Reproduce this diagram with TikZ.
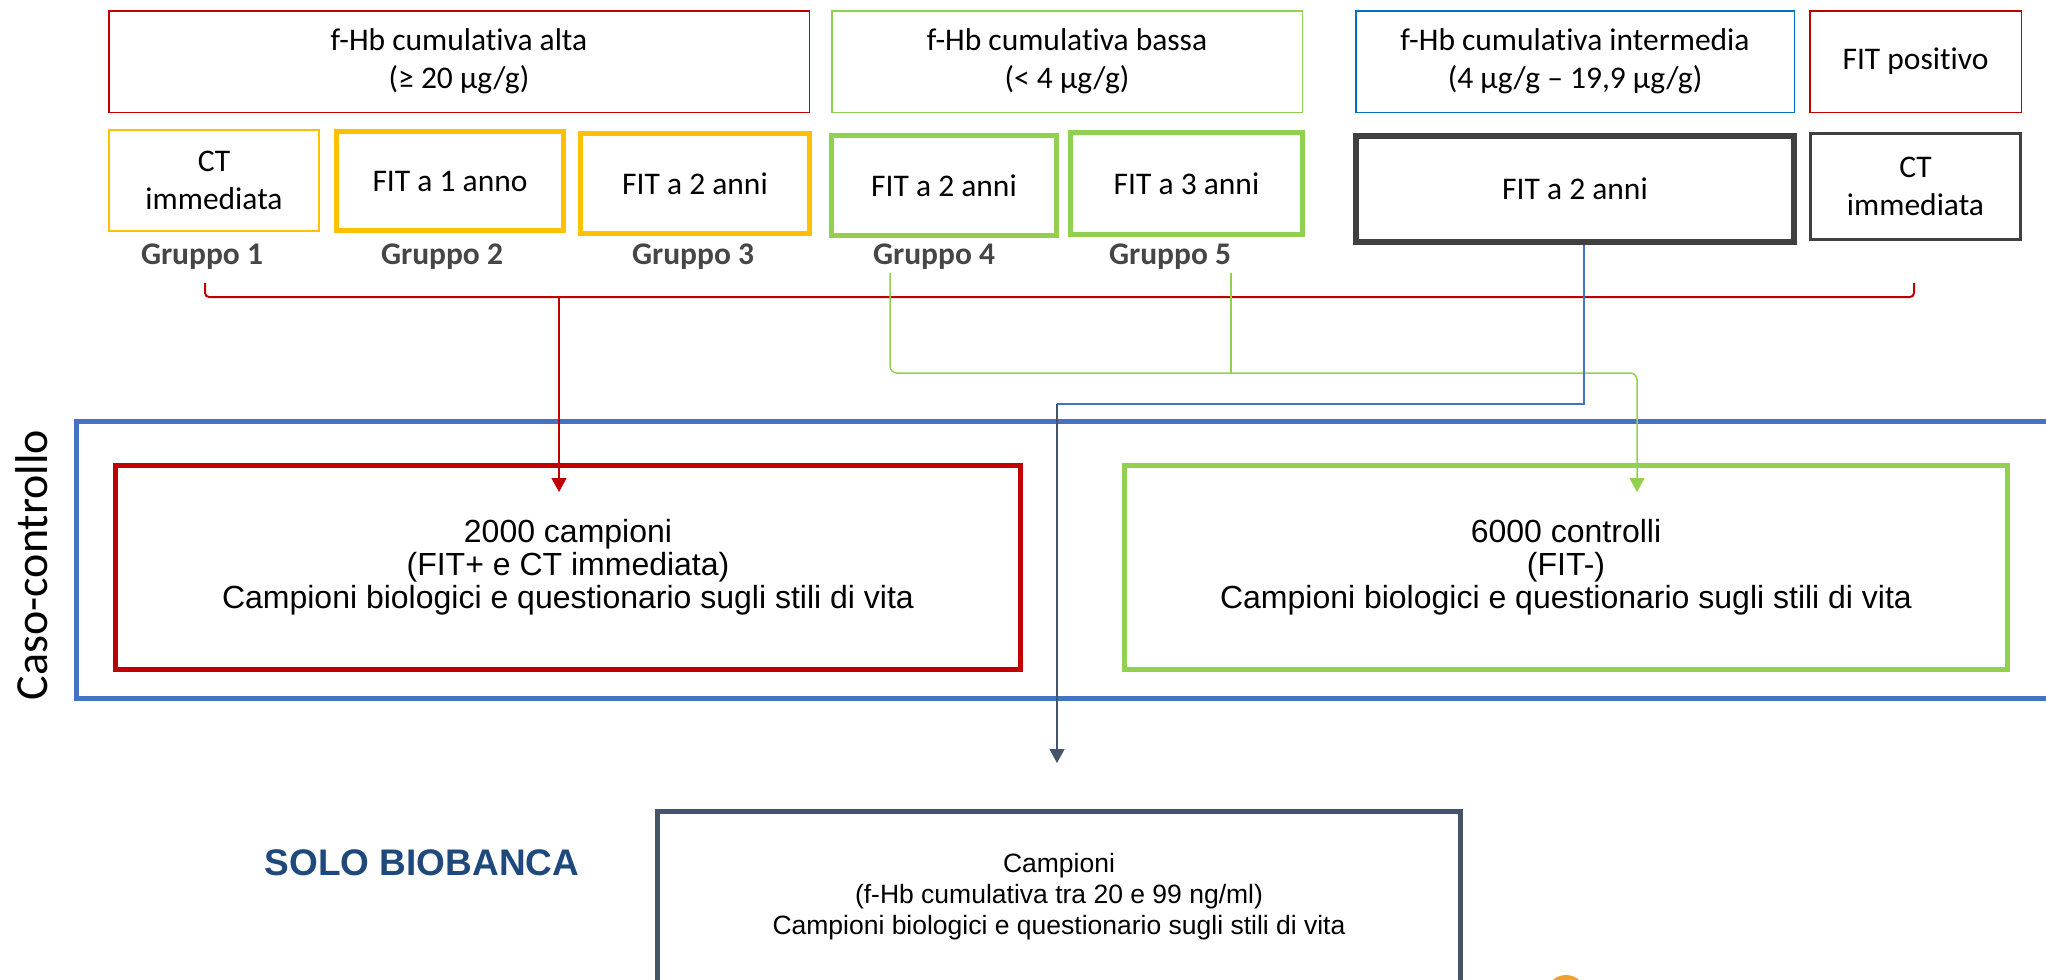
\documentclass[tikz,border=0pt]{standalone}
\usepackage{fontspec}
\setmainfont{Carlito}[Ligatures={NoCommon}]
\newfontfamily\arialfont{Liberation Sans}
\usepackage{tikz}
\usetikzlibrary{arrows.meta, calc}
\definecolor{redbox}{HTML}{C00000}
\definecolor{yellowbox}{HTML}{FFC000}
\definecolor{greenbox}{HTML}{92D050}
\definecolor{bluebox}{HTML}{0070C0}
\definecolor{blueframe}{HTML}{4472C4}
\definecolor{darkbox}{HTML}{404040}
\definecolor{slatebox}{HTML}{44546A}
\definecolor{grouptext}{HTML}{464646}
\definecolor{biobanca}{HTML}{1F497D}
\definecolor{logo}{HTML}{F0A030}
\tikzstyle{topbox} = [rectangle, minimum height=101.5pt, text centered, align=center, line width=1.5pt, font=\fontsize{31.5}{38.5}\selectfont]
\tikzstyle{groupbox} = [rectangle, text centered, align=center, font=\fontsize{31.5}{38.5}\selectfont]
\tikzstyle{grouplabel} = [font=\fontsize{31.5}{38}\selectfont\bfseries, text=grouptext]
\tikzstyle{studybox} = [rectangle, minimum height=204pt, text centered, align=center, line width=5pt, font=\arialfont\fontsize{32}{33}\selectfont]
\tikzstyle{connector} = [line width=1.5pt, rounded corners=7pt]
\tikzstyle{arrow} = [line width=1.5pt, -{Triangle[length=14pt,width=15pt]}]

\begin{document}
\begin{tikzpicture}[x=1pt, y=-1pt]
            \useasboundingbox (0,0) rectangle (2046,980);
            \node (fhb_alta) [topbox, draw=redbox, minimum width=700.5pt] at (459,61.5) {f-Hb cumulativa alta\\(≥ 20 μg/g)};
            \node (fhb_bassa) [topbox, draw=greenbox, minimum width=470.5pt] at (1067,61.5) {f-Hb cumulativa bassa\\(< 4 μg/g)};
            \node (fhb_inter) [topbox, draw=bluebox, minimum width=438.5pt] at (1575,61.5) {f-Hb cumulativa intermedia\\(4 μg/g – 19,9 μg/g)};
            \node (fit_pos) [topbox, draw=redbox, minimum width=211.5pt] at (1915.5,61.5) {FIT positivo};

            \node (ct_1) [groupbox, draw=yellowbox, line width=2pt, minimum width=210pt, minimum height=101pt] at (214,180.5) {CT\\immediata};
            \node (fit_1y) [groupbox, draw=yellowbox, line width=5pt, minimum width=227.5pt, minimum height=99pt] at (450,181) {FIT a 1 anno};
            \node (fit_2y) [groupbox, draw=yellowbox, line width=5pt, minimum width=228.5pt, minimum height=100pt] at (695,183.5) {FIT a 2 anni};
            \node (fit_2y_low) [groupbox, draw=greenbox, line width=5pt, minimum width=224.5pt, minimum height=100pt] at (944,185.5) {FIT a 2 anni};
            \node (fit_3y_low) [groupbox, draw=greenbox, line width=5pt, minimum width=232pt, minimum height=102pt] at (1186.5,183.5) {FIT a 3 anni};
            \node (fit_2y_int) [groupbox, draw=darkbox, line width=6pt, minimum width=438pt, minimum height=106pt] at (1575,189) {FIT a 2 anni};
            \node (ct_pos) [groupbox, draw=darkbox, line width=3pt, minimum width=210pt, minimum height=106pt] at (1915.5,186.5) {CT\\immediata};

            \node (gr_1) [grouplabel] at (202,257) {Gruppo 1};
            \node (gr_2) [grouplabel] at (442,257) {Gruppo 2};
            \node (gr_3) [grouplabel] at (693,257) {Gruppo 3};
            \node (gr_4) [grouplabel] at (934,257) {Gruppo 4};
            \node (gr_5) [grouplabel] at (1170,257) {Gruppo 5};

            % case-control frame
            \draw [blueframe, line width=5pt] (76.5,421.5) rectangle (2070,698.5);
            \node (caso_label) [rotate=90, font=\fontsize{46}{50}\selectfont] at (32,565) {Caso-controllo};
            \node (casi) [studybox, draw=redbox, minimum width=905pt] at (568,567.5) {2000 campioni\\(FIT+ e CT immediata)\\Campioni biologici e questionario sugli stili di vita};
            \node (controlli) [studybox, draw=greenbox, minimum width=883pt] at (1566,567.5) {6000 controlli\\(FIT-)\\Campioni biologici e questionario sugli stili di vita};

            \node (solo) [font=\arialfont\bfseries\fontsize{37}{40}\selectfont, text=biobanca] at (422,863) {SOLO BIOBANCA};
            \node (bio) [rectangle, draw=slatebox, line width=5pt, minimum width=803pt, minimum height=200pt] at (1059,911.5) {};
            \node (bio_text) [align=center, font=\arialfont\fontsize{26.5}{31}\selectfont] at ($(bio.north)+(0,88)$) {Campioni\\(f-Hb cumulativa tra 20 e 99 ng/ml)\\Campioni biologici e questionario sugli stili di vita};
            \fill [logo] (1566,995) circle (20pt);

            \coordinate (red_l) at (205,283);
            \coordinate (red_r) at (1914,283);
            \coordinate (red_m) at (559,297);
            \coordinate (green_l) at (890,273);
            \coordinate (green_r) at (1231,273);
            \coordinate (green_m) at (1637,373);
            \coordinate (blue_m) at (1057,404);

            \draw [connector, redbox, line width=2pt, rounded corners=4pt] (red_l) |- (red_m) -| (red_r);
            \draw [arrow, redbox] (red_m) -- ($(casi.north -| red_m)+(0,29)$);
            \draw [connector, greenbox] (green_r) -- (green_r |- green_m);
            \draw [connector, arrow, greenbox] (green_l) |- (green_m) -- ($(controlli.north -| green_m)+(0,29)$);
            \draw [line width=1.2pt, blueframe] ($(fit_2y_int.south)+(9,0)$) |- (blue_m);
            \draw [arrow, slatebox] (blue_m) -- ($(bio.north -| blue_m)+(0,-46)$);
        \end{tikzpicture}
\end{document}
